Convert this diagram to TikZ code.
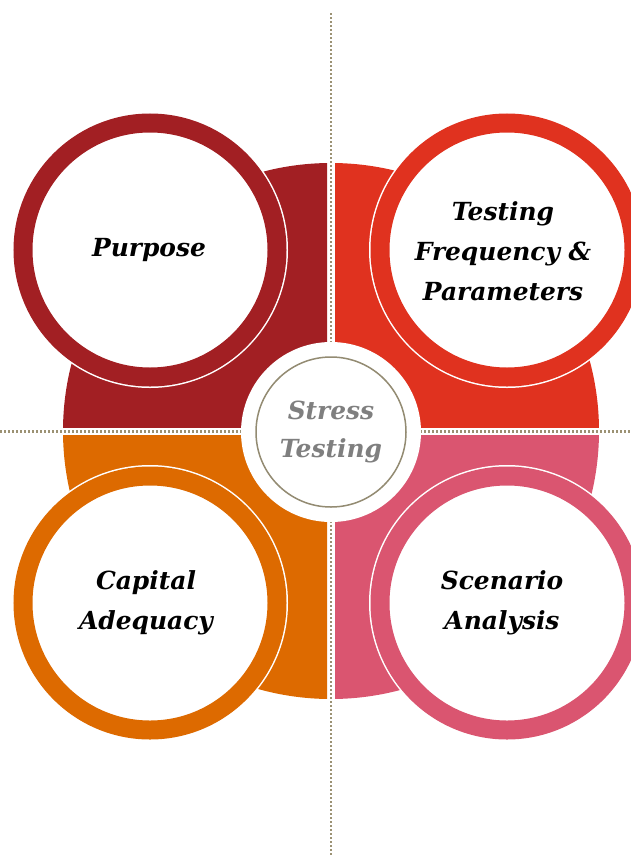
\documentclass[tikz,border=0pt]{standalone}
\usepackage{fontspec}
\newfontfamily\labelfont{DejaVu Serif}
\definecolor{purposered}{HTML}{A21F23}
\definecolor{testingred}{HTML}{E0321F}
\definecolor{capitalorange}{HTML}{DD6A00}
\definecolor{scenariopink}{HTML}{DA5570}
\definecolor{dotline}{HTML}{9C9274}
\definecolor{hubring}{HTML}{938B72}
\definecolor{hubtext}{HTML}{7F7F7F}

\tikzset{
  quarterfill/.style={fill=#1},
  guide/.style={draw=dotline, line width=2.6bp, dash pattern=on 2bp off 2bp},
  ring/.style={circle, inner sep=0pt, minimum size=254bp, fill=white,
    draw=white, line width=1.5bp, double=#1, double distance=19bp},
  caption/.style={align=center, text=black, inner sep=0pt,
    font=\labelfont\bfseries\itshape\fontsize{25}{40}\selectfont},
  hub/.style={circle, inner sep=0pt, minimum size=150bp, fill=white,
    draw=hubring, line width=1.5bp,
    preaction={draw=white, line width=30bp},
    align=center, text=hubtext,
    font=\labelfont\bfseries\itshape\fontsize{25}{39}\selectfont}
}

\begin{document}
\begin{tikzpicture}[x=1bp, y=-1bp]
\useasboundingbox (0,0) rectangle (631,857);
\clip (0,0) rectangle (631,857);

% four quarters of the central disk, separated by thin white gaps
\coordinate (c) at (331,431);
\begin{scope}
  \clip (0,0) rectangle (327,427);
  \fill[quarterfill=purposered] (c) circle[radius=268bp];
\end{scope}
\begin{scope}
  \clip (335,0) rectangle (631,427);
  \fill[quarterfill=testingred] (c) circle[radius=268bp];
\end{scope}
\begin{scope}
  \clip (0,435) rectangle (327,857);
  \fill[quarterfill=capitalorange] (c) circle[radius=268bp];
\end{scope}
\begin{scope}
  \clip (335,435) rectangle (631,857);
  \fill[quarterfill=scenariopink] (c) circle[radius=268bp];
\end{scope}

% dotted guide lines through the gaps
\coordinate (vtop) at (331,13);
\coordinate (vbot) at (331,857);
\coordinate (hleft) at (0,431.5);
\coordinate (hright) at (631,431.5);
\draw[guide] (vtop) -- (vbot);
\draw[guide] (hleft) -- (hright);

% central hub
\node[hub] (hub) at (331,432) {Stress\\Testing};

% the four topic rings and their captions
\node[ring=purposered] (purpose) at (150,250) {};
\node[ring=testingred] (testing) at (507,250) {};
\node[ring=capitalorange] (capital) at (150,603) {};
\node[ring=scenariopink] (scenario) at (507,603) {};

\node[caption] (purposetext) at (149,250) {Purpose};
\node[caption] (testingtext) at (503,251) {Testing\\Frequency \&\\Parameters};
\node[caption] (capitaltext) at (146,603) {Capital\\Adequacy};
\node[caption] (scenariotext) at (502,603) {Scenario\\Analysis};
\end{tikzpicture}
\end{document}
